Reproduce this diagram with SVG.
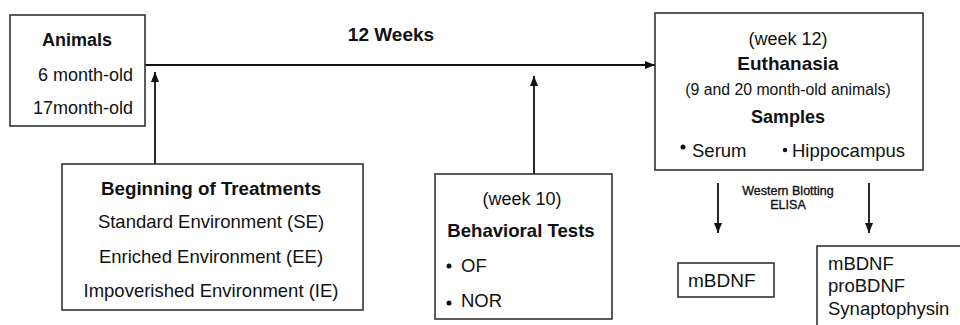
<svg xmlns="http://www.w3.org/2000/svg" width="960" height="325" viewBox="0 0 960 325">
<defs>
<style>
.box{fill:#fff;stroke:#333;stroke-width:1.6}
text{font-family:"Liberation Sans",Arial,sans-serif;fill:#111}
.b{font-weight:bold}
.c{text-anchor:middle}
.sm{stroke:#111;stroke-width:0.35}
.ln{stroke:#111;stroke-width:1.8;fill:none}
</style>
<marker id="ah" viewBox="0 0 10 8" refX="10" refY="4" markerWidth="10" markerHeight="8" markerUnits="userSpaceOnUse" orient="auto">
<path d="M0,0 L10,4 L0,8 Z" fill="#111"/>
</marker>
</defs>
<rect width="960" height="325" fill="#fff"/>
<g id="connectors">
<line class="ln" x1="145" y1="65" x2="655" y2="65" marker-end="url(#ah)"/>
<line class="ln" x1="155" y1="164" x2="155" y2="72" marker-end="url(#ah)"/>
<line class="ln" x1="534" y1="174" x2="534" y2="76" marker-end="url(#ah)"/>
<line class="ln" x1="718" y1="183" x2="718" y2="233" marker-end="url(#ah)"/>
<line class="ln" x1="869" y1="183" x2="869" y2="233" marker-end="url(#ah)"/>
</g>
<text x="391" y="41" class="b c" font-size="19">12 Weeks</text>
<text x="788" y="195" class="c sm" font-size="12.5">Western Blotting</text>
<text x="788" y="209" class="c sm" font-size="12.5">ELISA</text>
<g id="animals">
<rect class="box" x="10" y="15" width="135" height="111"/>
<text x="77" y="46" class="b c" font-size="18">Animals</text>
<text x="133" y="81" text-anchor="end" font-size="18">6 month-old</text>
<text x="133" y="114" text-anchor="end" font-size="18">17month-old</text>
</g>
<g id="treatments">
<rect class="box" x="62" y="164" width="301" height="146"/>
<text x="211" y="195" class="b c" font-size="18.8">Beginning of Treatments</text>
<text x="211" y="228" class="c" font-size="18.5">Standard Environment (SE)</text>
<text x="211" y="263" class="c" font-size="18.5">Enriched Environment (EE)</text>
<text x="211" y="297" class="c" font-size="18.5">Impoverished Environment (IE)</text>
</g>
<g id="behavioral">
<rect class="box" x="435" y="174" width="177" height="145"/>
<text x="522" y="205" class="c" font-size="18">(week 10)</text>
<text x="521" y="237" class="b c" font-size="18.6">Behavioral Tests</text>
<circle cx="449" cy="266" r="2.5" fill="#111"/>
<text x="461" y="272" font-size="18.5">OF</text>
<circle cx="449" cy="303" r="2.5" fill="#111"/>
<text x="461" y="307" font-size="18.5">NOR</text>
</g>
<g id="euthanasia">
<rect class="box" x="655" y="13" width="268" height="157"/>
<text x="788" y="45" class="c" font-size="18">(week 12)</text>
<text x="788" y="70" class="b c" font-size="19">Euthanasia</text>
<text x="788" y="95" class="c" font-size="15.8">(9 and 20 month-old animals)</text>
<text x="788" y="123" class="b c" font-size="18">Samples</text>
<circle cx="683" cy="147" r="2.5" fill="#111"/>
<text x="692" y="157" font-size="18.5">Serum</text>
<circle cx="785" cy="150" r="2.2" fill="#111"/>
<text x="792" y="157" font-size="18.5">Hippocampus</text>
</g>
<g id="serum-result">
<rect class="box" x="678" y="263" width="96" height="34"/>
<text x="688" y="287" font-size="19">mBDNF</text>
</g>
<g id="hippocampus-result">
<rect class="box" x="817" y="246" width="150" height="90"/>
<text x="828" y="270" font-size="18.5">mBDNF</text>
<text x="828" y="292" font-size="18.5">proBDNF</text>
<text x="828" y="315" font-size="18.5">Synaptophysin</text>
</g>
</svg>
